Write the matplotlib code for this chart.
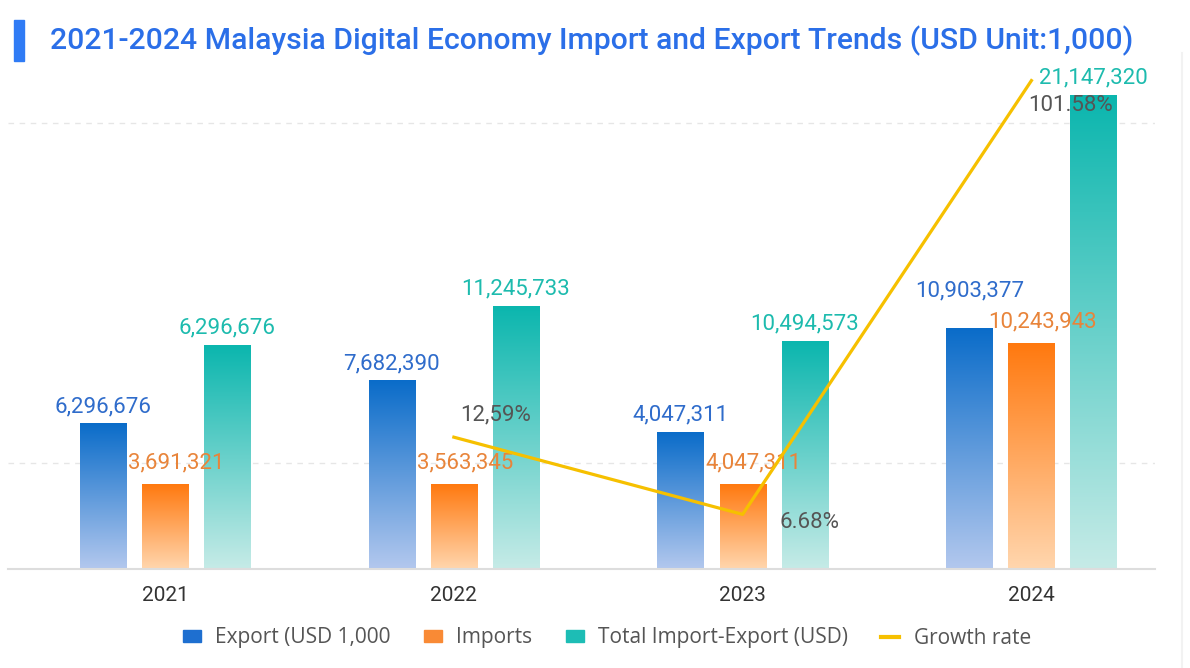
import numpy as np
import matplotlib
matplotlib.use("Agg")
import matplotlib.pyplot as plt
from matplotlib.colors import LinearSegmentedColormap
from matplotlib.patches import Patch, Rectangle
from matplotlib.lines import Line2D

plt.rcParams['font.family'] = ['Roboto', 'DejaVu Sans']

# data (bar heights, labels as printed on the chart)
years = ["2021", "2022", "2023", "2024"]
export_vals = [6470000, 8390000, 6110000, 10710000]
import_vals = [3750000, 3750000, 3790000, 10040000]
total_vals = [9990000, 11730000, 10170000, 21147320]
export_labels = ["6,296,676", "7,682,390", "4,047,311", "10,903,377"]
import_labels = ["3,691,321", "3,563,345", "4,047,311", "10,243,943"]
total_labels = ["6,296,676", "11,245,733", "10,494,573", "21,147,320"]
growth_years = [1, 2, 3]
growth_vals = [12.59, -6.68, 101.58]
growth_labels = ["12,59%", "6.68%", "101.58%"]

fig = plt.figure(figsize=(11.9, 6.68), dpi=100)
ax = fig.add_axes([0.0067, 0.1482, 0.9639, 0.7395])


def grad_bars(ax, xs, vals, width, top_c, bot_c):
    # bars with a vertical gradient, dark on top
    cmap = LinearSegmentedColormap.from_list("g", [bot_c, top_c])
    bars = ax.bar(xs, vals, width, color="none", edgecolor="none", zorder=2)
    grad = np.linspace(0, 1, 256).reshape(-1, 1)
    for b in bars:
        x0, w, h = b.get_x(), b.get_width(), b.get_height()
        ax.imshow(grad, extent=[x0, x0 + w, 0, h], origin="lower", cmap=cmap,
                  aspect="auto", zorder=2)
    return bars


x = np.arange(len(years))
w = 0.16
step = 0.215
grad_bars(ax, x - step, export_vals, w, "#0A6CC9", "#B3C8EE")
grad_bars(ax, x, import_vals, w, "#FF790F", "#FFD6AE")
grad_bars(ax, x + step, total_vals, w, "#0BB6AE", "#C6EBE7")

ax.set_xlim(-0.544, 3.428)
ax.set_ylim(0, 22040000)

lbl_font = dict(fontsize=16, ha="center", va="bottom", textcoords="offset points")
export_dy = [5, 5, 5, 20]
for i in range(len(years)):
    ax.annotate(export_labels[i], (x[i] - step, export_vals[i]), xytext=(0, export_dy[i]),
                color="#2F6CCB", **lbl_font)
    ax.annotate(import_labels[i], (x[i], import_vals[i]), xytext=(8, 8),
                color="#E8843A", **lbl_font)
    ax.annotate(total_labels[i], (x[i] + step, total_vals[i]), xytext=(0, 5),
                color="#1DBBAE", **lbl_font)

# growth rate on its own axis
ax2 = ax.twinx()
ax2.set_ylim(-20.31, 102.97)
ax2.plot(growth_years, growth_vals, color="#F6C000", lw=2.3, zorder=3)
offs = [(30, 16), (48, -6), (28, -18)]
for gx, gv, gl, o in zip(growth_years, growth_vals, growth_labels, offs):
    ax2.annotate(gl, (gx, gv), xytext=o, textcoords="offset points",
                 ha="center", va="center", fontsize=16, color="#555555")
ax2.axis("off")

# grid and axes styling
ax.set_yticks([4730000, 19900000])
ax.yaxis.grid(True, ls=(0, (4, 4)), color="#E6E6E6", lw=1)
ax.set_axisbelow(True)
ax.tick_params(axis="y", left=False, labelleft=False)
ax.set_xticks(x)
ax.set_xticklabels(years, fontsize=15, color="#333333")
ax.tick_params(axis="x", length=0, pad=12)
for s in ["top", "right", "left"]:
    ax.spines[s].set_visible(False)
ax.spines["bottom"].set_color("#DDDDDD")
ax.spines["bottom"].set_linewidth(1.5)

# faint frame edge on the right
fig.add_artist(Line2D([1182 / 1190, 1182 / 1190], [0, 0.92], transform=fig.transFigure,
                      color="#F2F2F2", lw=1.5))

# title
fig.patches.append(Rectangle((14 / 1190, 1 - 61 / 668), 10 / 1190, 41 / 668,
                             transform=fig.transFigure, color="#2F7BF5"))
fig.text(50 / 1190, 1 - 41 / 668,
         "2021-2024 Malaysia Digital Economy Import and Export Trends (USD Unit:1,000)",
         fontsize=21.7, fontweight="medium", color="#2B6FE8", va="center", ha="left")

# legend
handles = [Patch(color="#1E6FD0"), Patch(color="#F98A35"), Patch(color="#1DBDB5"),
           Line2D([], [], color="#F6C000", lw=3)]
names = ["Export (USD 1,000", "Imports", "Total Import-Export (USD)", "Growth rate"]
fig.legend(handles, names, loc="center", bbox_to_anchor=(607 / 1190, 1 - 638 / 668),
           ncol=4, frameon=False, handlelength=0.85, handleheight=0.45,
           handletextpad=0.7, columnspacing=1.6, labelcolor="#555555",
           prop={"family": ["Open Sans", "DejaVu Sans"], "size": 15})

fig.savefig("out.png", dpi=100)
